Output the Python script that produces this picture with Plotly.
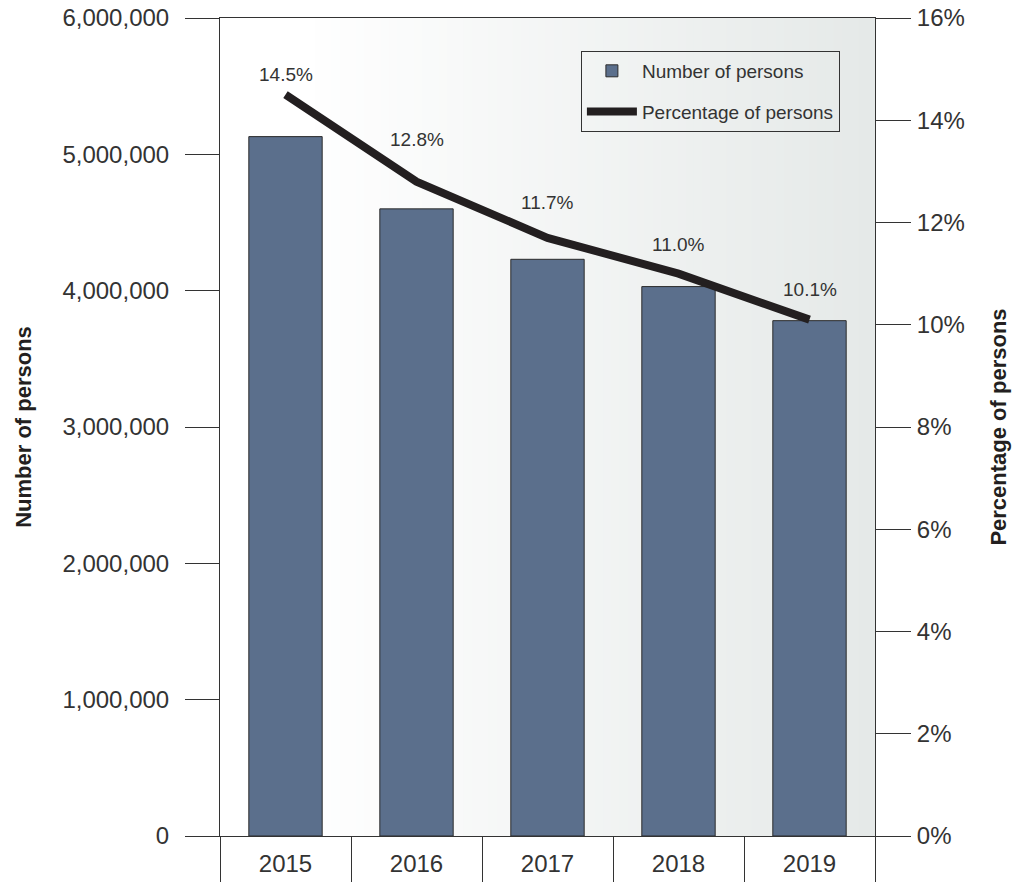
import plotly.graph_objects as go

# ---- data ----
years = ["2015", "2016", "2017", "2018", "2019"]
persons = [5130000, 4600000, 4230000, 4030000, 3780000]
pct = [14.5, 12.8, 11.7, 11.0, 10.1]
pct_labels = ["14.5%", "12.8%", "11.7%", "11.0%", "10.1%"]
left_ticks = [0, 1000000, 2000000, 3000000, 4000000, 5000000, 6000000]
right_ticks = [0, 2, 4, 6, 8, 10, 12, 14, 16]
right_tick_labels = ["0%", "2%", "4%", "6%", "8%", "10%", "12%", "14%", "16%"]

# label placement (pixels above each line point) – styling only
label_lift = [20, 42, 35, 29, 30]

FONT = "Liberation Sans"
INK = "#231f20"
AXIS = "#333333"

fig = go.Figure()

fig.add_trace(go.Bar(
    x=years, y=persons, name="Number of persons",
    marker=dict(color="#5b6f8c", line=dict(color="#2b2b2b", width=1)),
    legendgroup="a", yaxis="y",
))

fig.add_trace(go.Scatter(
    x=years, y=pct, name="Percentage of persons", yaxis="y2",
    mode="lines",
    line=dict(color=INK, width=8),
    legendgroup="b", cliponaxis=False,
))

# data labels: category axis annotations use the category index
annotations = []
for idx, (v, lab, lift) in enumerate(zip(pct, pct_labels, label_lift)):
    annotations.append(dict(
        x=idx, y=v, xref="x", yref="y2", text=lab, showarrow=False,
        yanchor="middle", xanchor="center", yshift=lift,
        font=dict(family=FONT, size=19, color="#333333"),
    ))

# background gradient (decorative)
shapes = []
n = 70
x_start = 0.12
c0 = (255, 255, 255)
c1 = (229, 233, 232)
for i in range(n):
    t = i / (n - 1)
    col = tuple(round(c0[k] + (c1[k] - c0[k]) * t) for k in range(3))
    xa = x_start + (1 - x_start) * i / n
    xb = min(1.0, x_start + (1 - x_start) * (i + 1.6) / n)
    shapes.append(dict(type="rect", xref="paper", yref="paper", x0=xa, x1=xb,
                       y0=0, y1=1, fillcolor="rgb(%d,%d,%d)" % col,
                       line=dict(width=0), layer="below"))

fig.update_layout(
    width=1016, height=882,
    margin=dict(l=220, r=141, t=18, b=46),
    paper_bgcolor="white", plot_bgcolor="white",
    font=dict(family=FONT, size=24, color="#333333"),
    bargap=0.44,
    shapes=shapes,
    annotations=annotations,
    showlegend=True,
    hovermode=False,
    legend=dict(
        x=0.551, y=0.9597, xanchor="left", yanchor="top",
        bgcolor="rgba(0,0,0,0)", bordercolor=AXIS, borderwidth=1,
        font=dict(family=FONT, size=19, color="#333333"),
        tracegroupgap=13, itemwidth=50,
    ),
    xaxis=dict(
        type="category", categoryarray=years, range=[-0.5, 4.5],
        showline=True, linecolor=AXIS, linewidth=1, mirror=True,
        ticks="outside", tickson="boundaries", ticklen=46, tickcolor=AXIS,
        tickwidth=1, ticklabelstandoff=6,
        tickfont=dict(family=FONT, size=24, color="#333333"),
        showgrid=False, zeroline=False, automargin=False, fixedrange=True,
    ),
    yaxis=dict(
        range=[0, 6000000], tickvals=left_ticks, tickformat=",",
        showline=True, linecolor=AXIS, linewidth=1,
        ticks="outside", ticklen=34, tickcolor=AXIS, tickwidth=1,
        ticklabelstandoff=11, ticklabeloverflow="allow",
        tickfont=dict(family=FONT, size=24, color="#333333"),
        showgrid=False, zeroline=False, automargin=False,
        title=dict(text="Number of persons", standoff=24,
                   font=dict(family=FONT, size=22, color=INK, weight="bold")),
    ),
    yaxis2=dict(
        range=[0, 16], tickvals=right_ticks, ticktext=right_tick_labels,
        overlaying="y", side="right",
        showline=True, linecolor=AXIS, linewidth=1,
        ticks="outside", ticklen=35, tickcolor=AXIS, tickwidth=1,
        ticklabelstandoff=1, ticklabeloverflow="allow",
        tickfont=dict(family=FONT, size=24, color="#333333"),
        showgrid=False, zeroline=False, automargin=False,
        title=dict(text="Percentage of persons", standoff=26,
                   font=dict(family=FONT, size=22, color=INK, weight="bold")),
    ),
)

fig.write_html(
    "out.html",
    config={"displayModeBar": False},
    post_script="document.body.style.margin='0px';document.body.style.overflow='hidden';",
)
